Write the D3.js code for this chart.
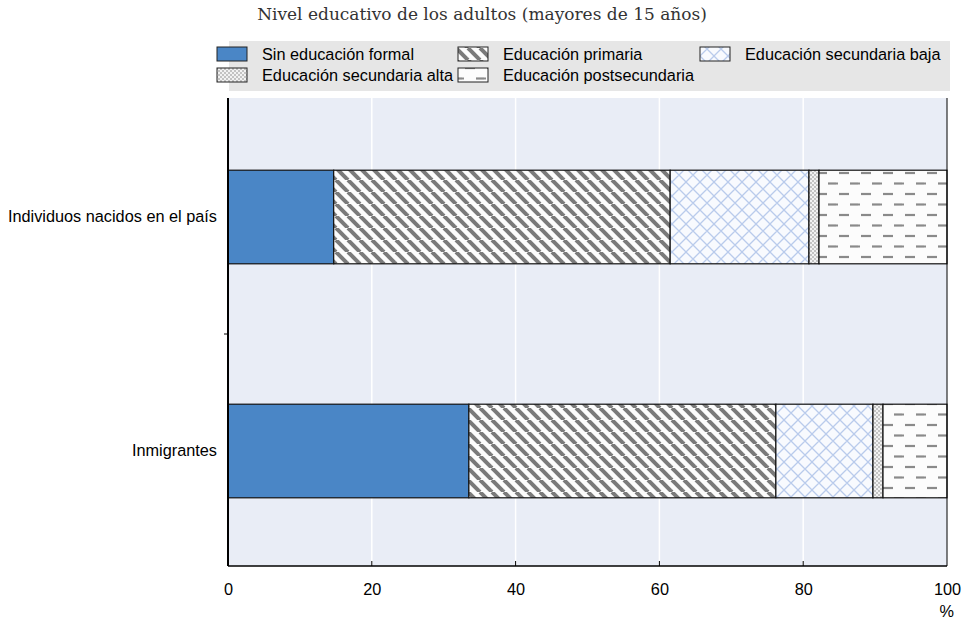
<!DOCTYPE html>
<html><head><meta charset="utf-8">
<script src="https://cdn.jsdelivr.net/npm/d3@7"></script>
<style>body{margin:0;background:#fff}svg{display:block}</style>
</head><body>
<svg id="c" width="969" height="622"></svg>
<script>
const title = "Nivel educativo de los adultos (mayores de 15 años)";
const categories = ["Individuos nacidos en el país", "Inmigrantes"];
const levels = ["Sin educación formal","Educación primaria","Educación secundaria baja","Educación secundaria alta","Educación postsecundaria"];
const sinEducacion = [14.7, 33.5];
const primaria = [46.8, 42.7];
const secBaja = [19.3, 13.5];
const secAlta = [1.4, 1.4];
const postsec = [17.8, 8.9];
const xTicks = [0,20,40,60,80,100];
const unit = "%";

const svg = d3.select("#c");
const M = {l:228, r:947, t:98, b:566};
const defs = svg.append("defs");
const FONT = "Liberation Sans, Arial";

// patterns
const pPrim = defs.append("pattern").attr("id","pPrim").attr("patternUnits","userSpaceOnUse")
  .attr("width",12).attr("height",12);
pPrim.append("rect").attr("width",12).attr("height",12).attr("fill","#fcfcfc");
[-12,0,12].forEach(dx=>{
  pPrim.append("line").attr("x1",dx).attr("y1",0).attr("x2",dx+12).attr("y2",12)
    .attr("stroke","#7a7a7a").attr("stroke-width",4);
});
const pBaja = defs.append("pattern").attr("id","pBaja").attr("patternUnits","userSpaceOnUse")
  .attr("width",14).attr("height",14);
pBaja.append("rect").attr("width",14).attr("height",14).attr("fill","#f8fafe");
pBaja.append("path").attr("d","M0,0L14,14M14,0L0,14M-7,7L7,21M7,-7L21,7M-7,7L7,-7M7,21L21,7")
  .attr("stroke","#b9cbec").attr("stroke-width",1.3).attr("fill","none");
const pAlta = defs.append("pattern").attr("id","pAlta").attr("patternUnits","userSpaceOnUse")
  .attr("width",4).attr("height",4);
pAlta.append("rect").attr("width",4).attr("height",4).attr("fill","#f2f2f2");
pAlta.append("circle").attr("cx",1).attr("cy",1).attr("r",0.8).attr("fill","#888");
pAlta.append("circle").attr("cx",3).attr("cy",3).attr("r",0.8).attr("fill","#888");
const pPost = defs.append("pattern").attr("id","pPost").attr("patternUnits","userSpaceOnUse")
  .attr("width",22).attr("height",21);
pPost.append("rect").attr("width",22).attr("height",21).attr("fill","#fcfcfc");
pPost.append("line").attr("x1",3).attr("y1",5).attr("x2",13).attr("y2",5).attr("stroke","#8a8a8a").attr("stroke-width",2.2);
pPost.append("line").attr("x1",14).attr("y1",15.5).attr("x2",24).attr("y2",15.5).attr("stroke","#8a8a8a").attr("stroke-width",2.2);
pPost.append("line").attr("x1",-8).attr("y1",15.5).attr("x2",2).attr("y2",15.5).attr("stroke","#8a8a8a").attr("stroke-width",2.2);

const fills = ["#4a86c6","url(#pPrim)","url(#pBaja)","url(#pAlta)","url(#pPost)"];

// title
svg.append("text").attr("x",482).attr("y",20).attr("text-anchor","middle")
  .attr("font-family","DejaVu Serif").attr("font-size",17).attr("fill","#333").text(title);

// legend
svg.append("rect").attr("x",229).attr("y",41).attr("width",721).attr("height",50).attr("fill","#e6e6e6");
const legPos = [[217,54],[458,54],[700,54],[217,75],[458,75]];
levels.forEach((lv,i)=>{
  const [lx,ly]=legPos[i];
  svg.append("rect").attr("x",lx).attr("y",ly-7).attr("width",30).attr("height",14)
    .attr("fill",fills[i]).attr("stroke","#222").attr("stroke-width",1);
  svg.append("text").attr("x",lx+45).attr("y",ly+6).attr("font-family",FONT)
    .attr("font-size",16.3).attr("fill","#000").text(lv);
});

// scales
const x = d3.scaleLinear().domain([0,100]).range([M.l,M.r]);
const y = d3.scaleBand().domain(categories).range([M.t+2,M.b+2]).paddingInner(0.6).paddingOuter(0.3);

// background
svg.append("rect").attr("x",M.l).attr("y",M.t).attr("width",M.r-M.l).attr("height",M.b-M.t).attr("fill","#e9edf6");
svg.append("g").selectAll("line").data(xTicks.slice(1,-1)).join("line")
  .attr("x1",d=>x(d)).attr("x2",d=>x(d)).attr("y1",M.t).attr("y2",M.b)
  .attr("stroke","#fff").attr("stroke-width",1.5);

// bars
const series = [sinEducacion, primaria, secBaja, secAlta, postsec];
categories.forEach((c,ci)=>{
  let acc = 0;
  series.forEach((s,si)=>{
    const v = s[ci];
    svg.append("rect").attr("x",x(acc)).attr("y",y(c)).attr("width",x(acc+v)-x(acc))
      .attr("height",y.bandwidth()).attr("fill",fills[si]).attr("stroke","#111").attr("stroke-width",1.2);
    acc += v;
  });
});

// x axis
const xa = svg.append("g").attr("transform",`translate(0,${M.b})`)
  .call(d3.axisBottom(x).tickValues(xTicks).tickSize(0).tickPadding(17).tickFormat(d3.format("d")));
xa.select(".domain").remove();
xa.selectAll("text").attr("font-family",FONT).attr("font-size",16.3).attr("fill","#000");
svg.append("g").selectAll("line").data(xTicks.slice(1,-1)).join("line")
  .attr("x1",d=>x(d)).attr("x2",d=>x(d)).attr("y1",M.b-5).attr("y2",M.b).attr("stroke","#000");
svg.append("text").attr("x",x(100)+7).attr("y",617).attr("text-anchor","end")
  .attr("font-family",FONT).attr("font-size",16.3).text(unit);

// frame
svg.append("line").attr("x1",M.l).attr("x2",M.r).attr("y1",M.b).attr("y2",M.b).attr("stroke","#000").attr("stroke-width",1.5);
svg.append("line").attr("x1",M.l).attr("x2",M.l).attr("y1",M.t).attr("y2",M.b).attr("stroke","#000").attr("stroke-width",2);
svg.append("line").attr("x1",M.r).attr("x2",M.r).attr("y1",M.t).attr("y2",M.b).attr("stroke","#000").attr("stroke-width",1);

// y axis labels
const ya = svg.append("g").attr("transform",`translate(${M.l},0)`)
  .call(d3.axisLeft(y).tickSize(0).tickPadding(11));
ya.select(".domain").remove();
ya.selectAll("text").attr("font-family",FONT).attr("font-size",16.3).attr("fill","#000");
const midY = (y(categories[0])+y.bandwidth()+y(categories[1]))/2;
svg.append("line").attr("x1",M.l-4).attr("x2",M.l).attr("y1",midY).attr("y2",midY).attr("stroke","#000");
</script>
</body></html>
